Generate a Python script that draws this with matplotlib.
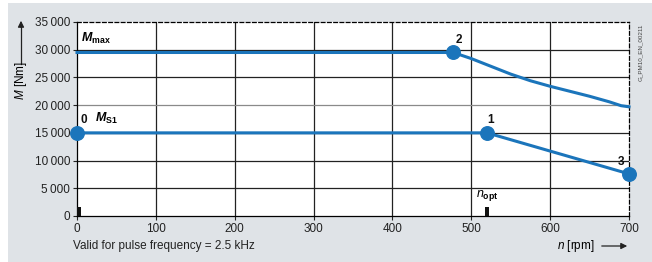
import matplotlib.pyplot as plt
from matplotlib.patches import Rectangle

plt.rcParams['font.family'] = ['Liberation Sans', 'DejaVu Sans']
plt.rcParams['mathtext.fontset'] = 'custom'
plt.rcParams['mathtext.rm'] = 'Liberation Sans'
plt.rcParams['mathtext.it'] = 'Liberation Sans:italic'
plt.rcParams['mathtext.bf'] = 'Liberation Sans:bold'
plt.rcParams['mathtext.bfit'] = 'Liberation Sans:italic:bold'

# curve data
mmax_n = [0, 477, 500, 525, 550, 575, 600, 625, 650, 675, 690, 700]
mmax_m = [29500, 29500, 28400, 27000, 25600, 24400, 23400, 22500, 21600, 20600, 19900, 19700]
ms1_n = [0, 520, 700]
ms1_m = [15000, 15000, 7600]

points_n = [0, 520, 477, 700]
points_m = [15000, 15000, 29500, 7600]
point_labels = ['0', '1', '2', '3']

marker_bars_n = [2, 520]
marker_bar_h = 1600

x_ticks = [0, 100, 200, 300, 400, 500, 600, 700]
y_ticks = [0, 5000, 10000, 15000, 20000, 25000, 30000, 35000]
y_tick_labels = ['0', '5\u2009000', '10\u2009000', '15\u2009000', '20\u2009000',
                 '25\u2009000', '30\u2009000', '35\u2009000']

blue = '#1b75bb'
bg = '#dfe3e7'

fig = plt.figure(figsize=(6.52, 2.62), dpi=100)
fig.patches.append(Rectangle((8 / 652, 0), 1, 259 / 262, transform=fig.transFigure,
                             facecolor=bg, edgecolor='none', zorder=-10))

ax = fig.add_axes([77 / 652, 46 / 262, 552 / 652, 194 / 262])
ax.set_facecolor('white')
ax.set_xlim(0, 700)
ax.set_ylim(0, 35000)

# grid
for x in x_ticks[1:-1]:
    ax.axvline(x, color='#222222', lw=0.9, zorder=1)
for y in y_ticks[1:-1]:
    c = '#8a8a8a' if y == 20000 else '#222222'
    ax.axhline(y, color=c, lw=0.9, zorder=1)

for s in ['top', 'right']:
    ax.spines[s].set_linestyle((0, (3, 2)))
    ax.spines[s].set_linewidth(0.9)
for s in ['left', 'bottom']:
    ax.spines[s].set_linewidth(0.9)

ax.plot(mmax_n, mmax_m, color=blue, lw=2.2, zorder=3, clip_on=False)
ax.plot(ms1_n, ms1_m, color=blue, lw=2.2, zorder=3, clip_on=False)
ax.scatter(points_n, points_m, s=95, color=blue, zorder=4, clip_on=False)

ax.bar(marker_bars_n, [marker_bar_h] * 2, width=5, color='#111111', zorder=3)

ax.set_xticks(x_ticks)
ax.set_yticks(y_ticks)
ax.set_yticklabels(y_tick_labels)
ax.tick_params(labelsize=8.5, length=3, width=0.8, colors='#222222', pad=2)

bold = dict(fontsize=8.5, fontweight='bold', color='#111111')
ax.text(5, 16300, point_labels[0], ha='left', va='bottom', **bold)
ax.text(524, 16300, point_labels[1], ha='center', va='bottom', **bold)
ax.text(484, 30600, point_labels[2], ha='center', va='bottom', **bold)
ax.text(690, 8700, point_labels[3], ha='center', va='bottom', **bold)

ax.text(23, 16300, r'$\boldsymbol{M}_{\mathbf{S1}}$', ha='left', va='bottom', fontsize=9)
ax.text(5, 30600, r'$\boldsymbol{M}_{\mathbf{max}}$', ha='left', va='bottom', fontsize=9)
ax.text(520, 2300, r'$n_{\mathbf{opt}}$', ha='center', va='bottom', fontsize=9)

# axis labels with arrows
fig.text(21 / 652, 1 - 81 / 262, r'$M$ [Nm]', rotation=90, ha='center', va='center', fontsize=8.5)
fig.add_artist(plt.Line2D([21 / 652, 21 / 652], [1 - 64 / 262, 1 - 26 / 262], color='#222222', lw=0.9))
ax.annotate('', xy=(21 / 652, 1 - 18 / 262), xytext=(21 / 652, 1 - 30 / 262),
            xycoords='figure fraction', textcoords='figure fraction',
            arrowprops=dict(arrowstyle='-|>', color='#222222', lw=0.9, mutation_scale=9))

fig.text(595 / 652, 1 - 246 / 262, r'$n$ [rpm]', ha='right', va='center', fontsize=8.5)
ax.annotate('', xy=(630 / 652, 1 - 246 / 262), xytext=(599 / 652, 1 - 246 / 262),
            xycoords='figure fraction', textcoords='figure fraction',
            arrowprops=dict(arrowstyle='-|>', color='#222222', lw=0.9, mutation_scale=9))

fig.text(73 / 652, 1 - 246 / 262, 'Valid for pulse frequency = 2.5 kHz',
         ha='left', va='center', fontsize=8.5, color='#222222')
fig.text(640 / 652, 1 - 52 / 262, 'G_PM10_EN_00211', rotation=90,
         ha='center', va='center', fontsize=4.5, color='#444444')

fig.savefig('out.png', dpi=100, facecolor='white')
